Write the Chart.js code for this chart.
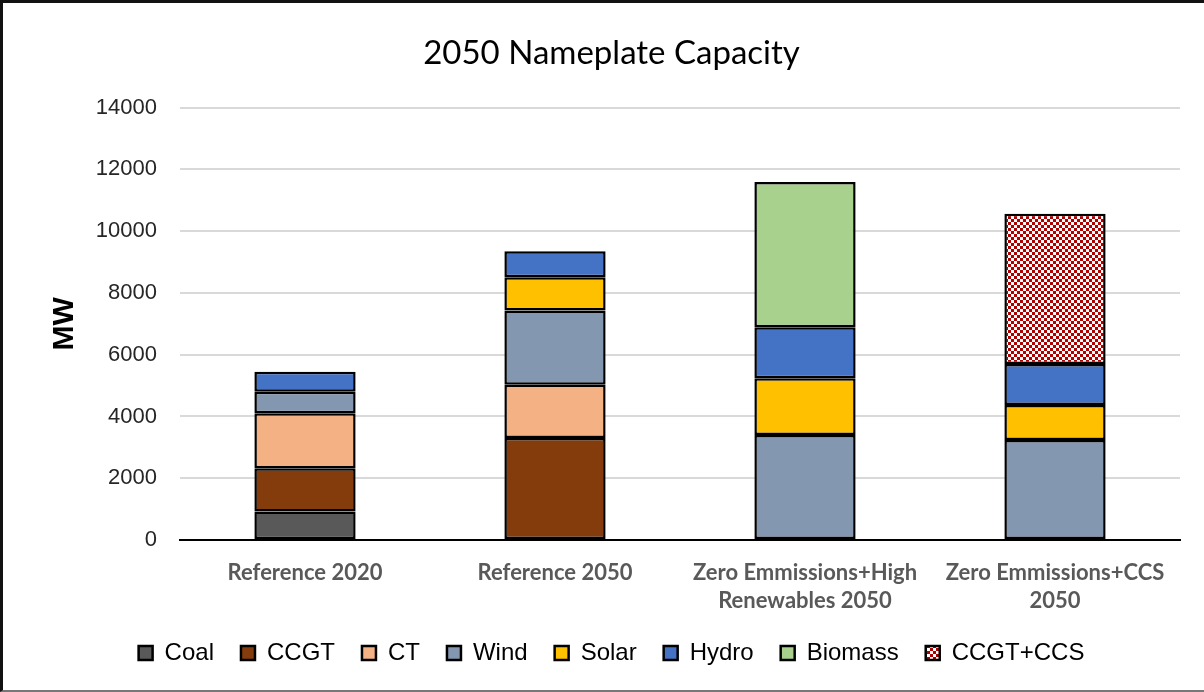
<!DOCTYPE html>
<html>
<head>
<meta charset="utf-8">
<script src="https://cdn.jsdelivr.net/npm/chart.js@4.4.1/dist/chart.umd.min.js"></script>
<style>
  html, body { margin: 0; padding: 0; background: #fff; }
  #wrap {
    position: relative;
    width: 1204px; height: 692px;
    box-sizing: border-box;
    border-left: 3px solid #111;
    border-top: 3px solid #111;
    border-bottom: 2px solid #777;
    margin: 0;
  }
  #wrap canvas { position: absolute; left: 0; top: 0; }
</style>
</head>
<body>
<div id="wrap"><canvas id="capChart" width="1199" height="687"></canvas></div>
<script>
// ---- data (MW), null = technology not in that scenario ----
const scenarios = [
  "Reference 2020",
  "Reference 2050",
  ["Zero Emmissions+High", "Renewables 2050"],
  ["Zero Emmissions+CCS", "2050"]
];
const coal    = [920, null, null, null];
const ccgt    = [1400, 3300, null, null];
const ct      = [1780, 1730, null, null];
const wind    = [700, 2400, 3400, 3240];
const solar   = [null, 1080, 1840, 1135];
const hydro   = [650, 840, 1650, 1320];
const biomass = [null, null, 4700, null];
const ccgtCcs = [null, null, null, 4870];
const yTicks  = [0, 2000, 4000, 6000, 8000, 10000, 12000, 14000];

// checkerboard fill for CCGT+CCS
function checkerPattern() {
  const c = document.createElement("canvas");
  c.width = 6; c.height = 6;
  const g = c.getContext("2d");
  g.fillStyle = "#ffffff";
  g.fillRect(0, 0, 6, 6);
  g.fillStyle = "#B00000";
  g.fillRect(0, 0, 3, 3);
  g.fillRect(3, 3, 3, 3);
  return g.createPattern(c, "repeat");
}

function series(label, data, color) {
  return {
    label,
    data,
    backgroundColor: color,
    borderColor: "#000",
    borderWidth: 2.5,
    borderSkipped: false,
    barPercentage: 0.405,
    categoryPercentage: 1
  };
}

const ctx = document.getElementById("capChart").getContext("2d");
new Chart(ctx, {
  type: "bar",
  data: {
    labels: scenarios,
    datasets: [
      series("Coal", coal, "#595959"),
      series("CCGT", ccgt, "#843C0C"),
      series("CT", ct, "#F4B183"),
      series("Wind", wind, "#8497B0"),
      series("Solar", solar, "#FFC000"),
      series("Hydro", hydro, "#4472C4"),
      series("Biomass", biomass, "#A9D18E"),
      series("CCGT+CCS", ccgtCcs, checkerPattern())
    ]
  },
  options: {
    responsive: false,
    animation: false,
    layout: { padding: { left: 40, right: 22, top: 0, bottom: 15 } },
    plugins: {
      tooltip: { enabled: false },
      title: {
        display: true,
        text: "2050 Nameplate Capacity",
        color: "#000",
        font: { family: "Lato, 'Open Sans', sans-serif", size: 33, weight: "normal" },
        padding: { top: 31, bottom: 34 }
      },
      legend: {
        position: "bottom",
        labels: {
          color: "#000",
          font: { family: "'Liberation Sans', Arial, sans-serif", size: 24 },
          boxWidth: 14,
          boxHeight: 14,
          padding: 27,
          useBorderRadius: false
        }
      }
    },
    scales: {
      x: {
        stacked: true,
        grid: { display: false },
        border: { display: true, color: "#000", width: 2 },
        afterFit: (s) => { s.height = 74; },
        ticks: {
          color: "#595959",
          padding: 11,
          maxRotation: 0,
          font: { family: "Lato, 'Open Sans', sans-serif", size: 22, weight: "bold", lineHeight: 1.27 }
        }
      },
      y: {
        stacked: true,
        min: 0,
        max: 14000,
        afterBuildTicks: (s) => { s.ticks = yTicks.map(v => ({ value: v })); },
        afterFit: (s) => { s.width = 137; },
        grid: { color: "#d9d9d9", lineWidth: 2, drawTicks: false },
        border: { display: false },
        title: {
          display: true,
          text: "MW",
          color: "#000",
          font: { family: "'Liberation Sans', Arial, sans-serif", size: 30, weight: "bold" },
          padding: { top: 4, bottom: 0 }
        },
        ticks: {
          color: "#262626",
          padding: 23,
          callback: (v) => String(v),
          font: { family: "'Liberation Sans', Arial, sans-serif", size: 22 }
        }
      }
    }
  }
});
</script>
</body>
</html>
